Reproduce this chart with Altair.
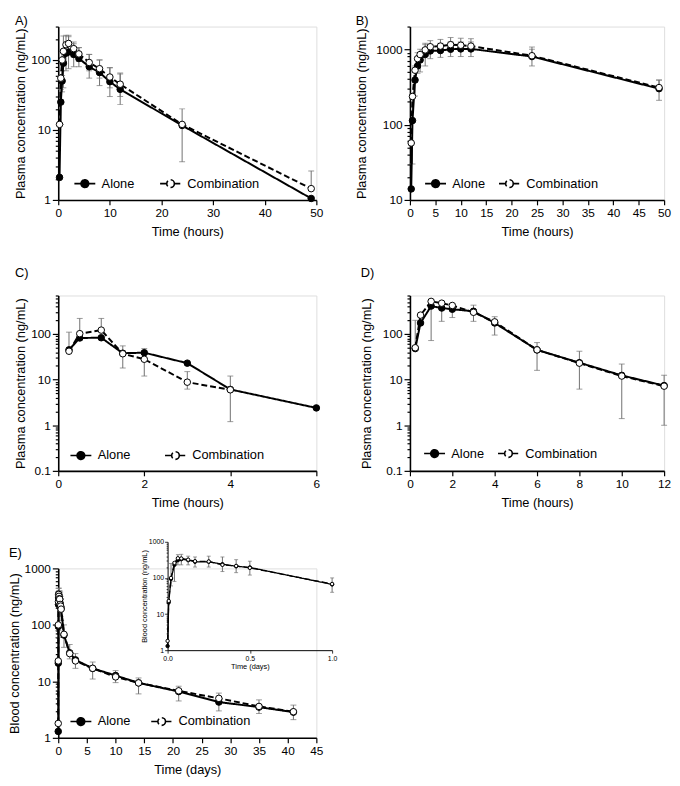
import altair as alt
import pandas as pd

# ---------------- data ----------------
# Panel A (hours)
tA = [0.25, 0.5, 0.75, 1, 1.5, 2, 3, 4, 6, 8, 10, 12, 24, 49]
aloneA = [2.1, 25, 50, 90, 125, 130, 120, 105, 80, 66, 49, 38, 11.6, 1.05]
aloneA_lo = [2.1, 12, 35, 40, 70, 75, 80, 80, 55, 43, 30, 23, 3.5, 1.05]
aloneA_hi = [2.1, 38, 70, 130, 180, 225, 170, 150, 120, 100, 77, 63, 20, 1.05]
combA = [12, 55, 100, 133, 165, 172, 145, 122, 92, 75, 57, 45, 12, 1.45]
combA_lo = [12, 55, 60, 90, 120, 130, 110, 95, 70, 55, 40, 30, 12, 1.45]
combA_hi = [12, 55, 140, 220, 225, 215, 180, 150, 120, 100, 78, 65, 12, 2.6]

# Panel B (hours)
tB = [0.25, 0.5, 1, 1.5, 2, 3, 4, 6, 8, 10, 12, 24, 49]
aloneB = [14, 113, 390, 600, 720, 850, 950, 960, 1000, 1010, 1010, 800, 300]
aloneB_lo = [14, 30, 240, 480, 500, 600, 750, 780, 800, 800, 800, 600, 210]
aloneB_hi = [14, 250, 600, 800, 900, 1150, 1150, 1200, 1250, 1250, 1250, 1070, 390]
combB = [57, 236, 527, 750, 850, 980, 1080, 1100, 1150, 1130, 1100, 820, 310]
combB_lo = [57, 236, 527, 750, 850, 980, 1080, 1100, 1150, 1130, 1100, 820, 310]
combB_hi = [57, 236, 527, 900, 1000, 1200, 1300, 1350, 1430, 1400, 1380, 1000, 390]

# Panel C (hours)
tC = [0.25, 0.5, 1, 1.5, 2, 3, 4, 6]
aloneC = [45, 82, 83, 38, 39, 23, 6.1, 2.4]
aloneC_lo = [45, 82, 83, 18, 39, 23, 1.2, 2.4]
aloneC_hi = [110, 82, 83, 55, 48, 23, 12, 2.4]
combC = [42, 102, 122, 37, 28, 8.8, 6.0]
combC_lo = [42, 102, 122, 37, 12, 6.2, 6.0]
combC_hi = [42, 220, 220, 37, 28, 15, 6.0]

# Panel D (hours)
tD = [0.25, 0.5, 1, 1.5, 2, 3, 4, 6, 8, 10, 12]
aloneD = [48, 175, 410, 372, 350, 316, 175, 45, 23.5, 12.4, 7.4]
aloneD_lo = [48, 175, 72, 190, 230, 190, 95, 16, 6.2, 1.4, 1.0]
aloneD_hi = [200, 175, 410, 372, 350, 430, 240, 65, 42, 22, 12.5]
combD = [50, 260, 520, 475, 423, 300, 185, 45, 23, 12, 7.2]
combD_lo = [50, 260, 520, 475, 423, 300, 185, 45, 23, 12, 7.2]
combD_hi = [50, 260, 520, 475, 423, 300, 185, 45, 23, 12, 7.2]

# Panel E (days)
tE = [0, 0.0069, 0.0208, 0.0417, 0.0625, 0.0833, 0.125, 0.1667, 0.25, 0.3333,
      0.4167, 0.5, 1, 2, 3, 6, 10, 14, 21, 28, 35, 41]
aloneE = [1.3, 21, 94, 230, 310, 330, 310, 280, 280, 240, 210, 195, 66, 32, 24,
          17, 12.7, 9.4, 6.6, 4.3, 3.5, 2.85]
aloneE_lo = [1.3, 21, 60, 80, 230, 230, 230, 200, 200, 150, 140, 120, 40, 25, 17,
             11, 9.5, 6, 4.5, 3, 2.7, 2.1]
aloneE_hi = [1.3, 21, 250, 270, 440, 450, 400, 380, 400, 380, 320, 290, 100, 45, 31,
             22, 15.5, 11.5, 8.2, 6.2, 4.7, 3.8]
combE = [1.8, 23, 100, 260, 350, 345, 320, 290, 285, 230, 215, 190, 68, 31, 23,
         17, 12, 9.4, 6.8, 5.0, 3.6, 2.9]
combE_lo = list(combE)
combE_hi = list(combE)

GROUPS = ["Alone", "Combination"]

# ---------------- styling ----------------
FONT = "Liberation Sans"
GRAY = "#707070"
DEC_TEST = "indexof([0.1, 1, 10, 100, 1000], datum.value) >= 0"
SYMBOL = ("M-1.5,0H-0.55M0.55,0H1.5M0.55,0A0.55,0.55,0,1,1,-0.55,0"
          "A0.55,0.55,0,1,1,0.55,0Z")


def make_df(t, a, alo, ahi, c, clo, chi):
    rows = []
    for i in range(len(a)):
        rows.append({"t": t[i], "v": a[i], "lo": alo[i], "hi": ahi[i], "group": "Alone"})
    for i in range(len(c)):
        rows.append({"t": t[i], "v": c[i], "lo": clo[i], "hi": chi[i], "group": "Combination"})
    return pd.DataFrame(rows)


def log_ticks(lo, hi):
    vals = []
    for d in [0.1, 1, 10, 100, 1000]:
        for m in range(1, 10):
            v = round(d * m, 6)
            if lo - 1e-9 <= v <= hi + 1e-9:
                vals.append(v)
    return vals


def y_axis(title, dom, extent, tpad, small=False):
    return alt.Axis(
        title=title, values=log_ticks(*dom), grid=False,
        labelExpr=f"{DEC_TEST} ? format(datum.value, '~g') : ''",
        tickSize={"condition": {"test": DEC_TEST, "value": 3 if small else 6},
                  "value": 1.5 if small else 3},
        domainColor="black", domainWidth=1 if small else 1.6,
        tickColor="black", tickWidth=0.8 if small else 1.2,
        labelFont=FONT, labelFontSize=7 if small else 12, labelColor="black",
        labelPadding=1 if small else 2, labelOverlap=False,
        titleFont=FONT, titleFontSize=7.5 if small else 13, titleFontWeight="normal",
        titleColor="black", titlePadding=tpad,
        minExtent=extent, maxExtent=extent)


def x_axis(title, vals, fmt="d", small=False, **kw):
    return alt.Axis(
        title=title, values=vals, format=fmt, grid=False,
        tickSize=3 if small else 5, domainColor="black",
        domainWidth=1 if small else 1.6, tickColor="black",
        tickWidth=0.8 if small else 1.2,
        labelFont=FONT, labelFontSize=7 if small else 12, labelColor="black",
        labelPadding=1 if small else 3, labelFlush=False, labelOverlap=False,
        titleFont=FONT, titleFontSize=7.5 if small else 13, titleFontWeight="normal",
        titleColor="black", titlePadding=2 if small else 7, **kw)


def legend(lx, ly, colpad):
    return alt.Legend(
        orient="none", legendX=lx, legendY=ly, direction="horizontal", title=None,
        symbolType=SYMBOL, symbolSize=200, symbolStrokeColor="black",
        symbolStrokeWidth=1.6, labelFont=FONT, labelFontSize=13,
        labelColor="black", labelOffset=9, columnPadding=colpad, padding=0)


def series(df, X, ys, yax, pt, lw, cap, leg):
    Y = alt.Y("v:Q", scale=ys, axis=yax)
    Ylo = alt.Y("lo:Q", scale=ys, axis=yax)
    Yhi = alt.Y("hi:Q", scale=ys, axis=yax)
    err = alt.Chart(df[df.lo < df.hi]).mark_rule(color=GRAY, strokeWidth=1).encode(
        x=X, y=Ylo, y2=alt.Y2("hi:Q"))
    cap_lo = alt.Chart(df[df.lo < df.v]).mark_tick(
        orient="horizontal", color=GRAY, size=cap, thickness=1).encode(x=X, y=Ylo)
    cap_hi = alt.Chart(df[df.hi > df.v]).mark_tick(
        orient="horizontal", color=GRAY, size=cap, thickness=1).encode(x=X, y=Yhi)
    line = alt.Chart(df).mark_line(color="black", strokeWidth=lw).encode(
        x=X, y=Y,
        strokeDash=alt.StrokeDash("group:N", scale=alt.Scale(
            domain=GROUPS, range=[[1, 0], [6, 3]]), legend=leg))
    pts = alt.Chart(df).mark_point(
        filled=True, size=pt, stroke="black", strokeWidth=1, opacity=1).encode(
        x=X, y=Y,
        fill=alt.Fill("group:N", scale=alt.Scale(
            domain=GROUPS, range=["black", "white"]), legend=leg))
    return [err, cap_lo, cap_hi, line, pts]


def title(text, off, dy=0):
    return alt.TitleParams(text=text, anchor="start", frame="bounds", font=FONT,
                           fontSize=13, fontWeight="normal", color="black",
                           offset=off, dy=dy)


def panel(df, label, xdom, xvals, xtitle, ydom, ytitle, w, h, yext, ytpad,
          lx, ly, colpad, toff):
    X = alt.X("t:Q", scale=alt.Scale(domain=xdom, nice=False, zero=False),
              axis=x_axis(xtitle, xvals))
    ys = alt.Scale(type="log", domain=ydom, nice=False)
    yax = y_axis(ytitle, ydom, yext, ytpad)
    return alt.layer(*series(df, X, ys, yax, 44, 2, 6, legend(lx, ly, colpad))).properties(
        width=w, height=h, title=title(label, toff))


dfA = make_df(tA, aloneA, aloneA_lo, aloneA_hi, combA, combA_lo, combA_hi)
dfB = make_df(tB, aloneB, aloneB_lo, aloneB_hi, combB, combB_lo, combB_hi)
dfC = make_df(tC, aloneC, aloneC_lo, aloneC_hi, combC, combC_lo, combC_hi)
dfD = make_df(tD, aloneD, aloneD_lo, aloneD_hi, combD, combD_lo, combD_hi)
dfE = make_df(tE, aloneE, aloneE_lo, aloneE_hi, combE, combE_lo, combE_hi)

PLASMA = "Plasma concentration (ng/mL)"
BLOOD = "Blood concentration (ng/mL)"

pA = panel(dfA, "A)", [0, 50], [0, 10, 20, 30, 40, 50], "Time (hours)", [1, 300], PLASMA,
           262, 176, 28, 3, 19, 151, 22, -7)
pB = panel(dfB, "B)", [0, 50], list(range(0, 55, 5)), "Time (hours)", [10, 2000], PLASMA,
           258, 176, 36, 6, 18, 151, 10, -7)
pC = panel(dfC, "C)", [0, 6], [0, 2, 4, 6], "Time (hours)", [0.1, 700], PLASMA,
           262, 178, 28, 3, 15, 154, 31, 10)
pD = panel(dfD, "D)", [0, 12], [0, 2, 4, 6, 8, 10, 12], "Time (hours)", [0.1, 700], PLASMA,
           258, 178, 31, 6, 17, 152, 10, 10)

# Panel E with inset
EW, EH = 262, 172
XE = alt.X("t:Q", scale=alt.Scale(domain=[0, 45], nice=False, zero=False),
           axis=x_axis("Time (days)", list(range(0, 50, 5))))
ysE = alt.Scale(type="log", domain=[1, 1000], nice=False)
main_E = alt.layer(*series(dfE, XE, ysE, y_axis(BLOOD, [1, 1000], 34, 3), 44, 2, 6,
                           legend(15, 147, 17)))

INS_X0, INS_X1 = 111, 278
INS_YB, INS_YT = 83, -27
dfEi = dfE[dfE.t <= 1]
XEi = alt.X("t:Q", scale=alt.Scale(domain=[0, 1], nice=False, zero=False,
                                   range=[INS_X0, INS_X1]),
            axis=x_axis("Time (days)", [0, 0.5, 1], fmt=".1f", small=True,
                        orient="bottom", offset=INS_YB - EH))
ysEi = alt.Scale(type="log", domain=[1, 1000], nice=False, range=[INS_YB, INS_YT])
yaxEi = alt.Axis(**{**y_axis(BLOOD, [1, 1000], 17, 2, small=True).to_dict(),
                    "orient": "left", "offset": -INS_X0})
inset_E = alt.layer(*series(dfEi, XEi, ysEi, yaxEi, 12, 1.3, 4, None))

pE = alt.layer(main_E, inset_E).resolve_scale(x="independent", y="independent").properties(
    width=EW, height=EH, title=title("E)", -22))

chart = alt.ConcatChart(
    concat=[pA, pB, pC, pD, pE], columns=2, align="each",
    spacing={"row": 27, "column": 17},
).resolve_scale(
    x="independent", y="independent", fill="independent", strokeDash="independent"
).resolve_legend(fill="independent", strokeDash="independent").properties(
    padding=0, background="white"
).configure_view(stroke=None).configure(font=FONT)

chart.save("out.html", embed_options={"renderer": "svg", "actions": False})
